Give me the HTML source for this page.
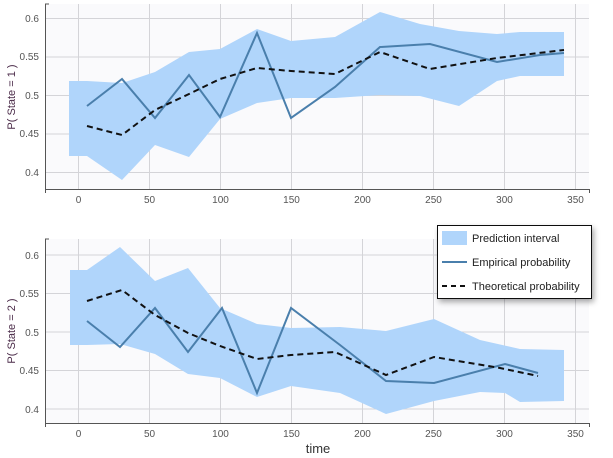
<!DOCTYPE html>
<html><head><style>body{margin:0;background:#fff}svg{display:block;font-family:"Liberation Sans",sans-serif}</style></head><body>
<svg width="613" height="458" viewBox="0 0 613 458">
<defs><filter id="sh" x="-20%" y="-20%" width="150%" height="160%"><feDropShadow dx="2" dy="3" stdDeviation="3" flood-color="#000" flood-opacity="0.35"/></filter></defs>
<!-- top plot -->
<rect x="46" y="4" width="543" height="185" fill="#fafafc"/>
<g stroke="#d4d4d8" stroke-width="1">
<line x1="78.5" y1="4" x2="78.5" y2="189"/><line x1="149.5" y1="4" x2="149.5" y2="189"/><line x1="220.5" y1="4" x2="220.5" y2="189"/><line x1="291.5" y1="4" x2="291.5" y2="189"/><line x1="362.5" y1="4" x2="362.5" y2="189"/><line x1="433.5" y1="4" x2="433.5" y2="189"/><line x1="504.5" y1="4" x2="504.5" y2="189"/><line x1="575.5" y1="4" x2="575.5" y2="189"/>
<line x1="46" y1="18.5" x2="589" y2="18.5"/><line x1="46" y1="57" x2="589" y2="57"/><line x1="46" y1="95.5" x2="589" y2="95.5"/><line x1="46" y1="134" x2="589" y2="134"/><line x1="46" y1="172.5" x2="589" y2="172.5"/>
</g>
<polygon fill="#b0d5fb" points="69,81 87,81 122,83 155,72 189,52 220,49 257,29 291,41 335,37 380,12 420,24 459,31 497,34 520,32 564,32 564,76 520,76 497,81 459,106 420,96 380,95 335,98 291,98 257,103 220,119 189,157 155,145 122,180 87,156 69,156"/>
<polyline fill="none" stroke="#4a7fac" stroke-width="2" points="87,106 122,79 155,118 189,75 220,117 257,33 291,118 335,87 380,47 430,44 497,62 540,55 564,53"/>
<polyline fill="none" stroke="#111" stroke-width="2" stroke-dasharray="6,4" points="87,126 122,135 155,110 189,94 220,79 257,68 291,71 335,74 380,52 430,69 497,58 564,50"/>
<g stroke="#555" stroke-width="1" fill="none"><polyline points="49,4 45.5,4 45.5,189.5 589.5,189.5 589.5,193"/><line x1="45.5" y1="189" x2="45.5" y2="193"/></g>
<g font-size="10" fill="#555" text-anchor="end"><text x="39" y="22">0.6</text><text x="39" y="60">0.55</text><text x="39" y="99">0.5</text><text x="39" y="137">0.45</text><text x="39" y="176">0.4</text></g>
<g font-size="10" fill="#555" text-anchor="middle"><text x="78.5" y="203">0</text><text x="149.5" y="203">50</text><text x="220.5" y="203">100</text><text x="291.5" y="203">150</text><text x="362.5" y="203">200</text><text x="433.5" y="203">250</text><text x="504.5" y="203">300</text><text x="575.5" y="203">350</text></g>
<text transform="translate(15,97) rotate(-90)" font-size="11" fill="#4a2a48" text-anchor="middle">P( State = 1 )</text>
<!-- bottom plot -->
<rect x="46" y="239" width="543" height="184" fill="#fafafc"/>
<g stroke="#d4d4d8" stroke-width="1">
<line x1="78.5" y1="239" x2="78.5" y2="423"/><line x1="149.5" y1="239" x2="149.5" y2="423"/><line x1="220.5" y1="239" x2="220.5" y2="423"/><line x1="291.5" y1="239" x2="291.5" y2="423"/><line x1="362.5" y1="239" x2="362.5" y2="423"/><line x1="433.5" y1="239" x2="433.5" y2="423"/><line x1="504.5" y1="239" x2="504.5" y2="423"/><line x1="575.5" y1="239" x2="575.5" y2="423"/>
<line x1="46" y1="255" x2="589" y2="255"/><line x1="46" y1="293.5" x2="589" y2="293.5"/><line x1="46" y1="332" x2="589" y2="332"/><line x1="46" y1="370.5" x2="589" y2="370.5"/><line x1="46" y1="409" x2="589" y2="409"/>
</g>
<polygon fill="#b0d5fb" points="70,270 87,270 120,247 155,281 188,268 220,308 257,324 291,328 340,327 386,331 434,319 480,340 520,349 564,350 564,401 520,402 505,393 480,392 434,401 386,414 340,393 291,386 257,397 220,378 188,374 155,354 120,344 87,345 70,345"/>
<polyline fill="none" stroke="#4a7fac" stroke-width="2" points="87,321 120,347 155,308 188,352 222,308 257,393 291,308 340,345 386,381 434,383 505,364 538,373"/>
<polyline fill="none" stroke="#111" stroke-width="2" stroke-dasharray="6,4" points="87,301 122,290 155,315 188,333 220,346 257,359 291,355 335,352 386,375 434,357 500,368 538,376"/>
<g stroke="#555" stroke-width="1" fill="none"><polyline points="49,239 45.5,239 45.5,423.5 589.5,423.5 589.5,427"/><line x1="45.5" y1="423" x2="45.5" y2="427"/></g>
<g font-size="10" fill="#555" text-anchor="end"><text x="39" y="259">0.6</text><text x="39" y="297">0.55</text><text x="39" y="336">0.5</text><text x="39" y="374">0.45</text><text x="39" y="413">0.4</text></g>
<g font-size="10" fill="#555" text-anchor="middle"><text x="78.5" y="437">0</text><text x="149.5" y="437">50</text><text x="220.5" y="437">100</text><text x="291.5" y="437">150</text><text x="362.5" y="437">200</text><text x="433.5" y="437">250</text><text x="504.5" y="437">300</text><text x="575.5" y="437">350</text></g>
<text transform="translate(15,331) rotate(-90)" font-size="11" fill="#4a2a48" text-anchor="middle">P( State = 2 )</text>
<text x="318" y="453" font-size="13" fill="#333" text-anchor="middle">time</text>
<!-- legend -->
<rect x="437.5" y="225.5" width="154" height="73" fill="#fff" stroke="#111" filter="url(#sh)"/>
<rect x="442" y="231" width="25" height="14" fill="#b0d5fb"/>
<line x1="442" y1="262" x2="467" y2="262" stroke="#4a7fac" stroke-width="2"/>
<line x1="442" y1="286" x2="467" y2="286" stroke="#111" stroke-width="2" stroke-dasharray="5,4"/>
<g font-size="11" fill="#222"><text x="472" y="242">Prediction interval</text><text x="472" y="266">Empirical probability</text><text x="472" y="290">Theoretical probability</text></g>
</svg>
</body></html>
